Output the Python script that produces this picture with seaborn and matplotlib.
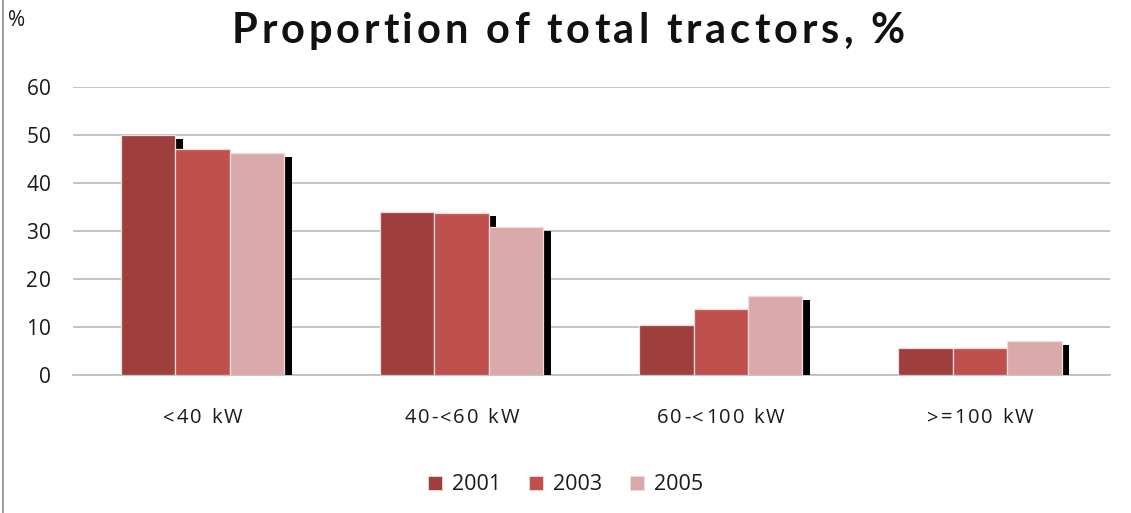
import matplotlib
matplotlib.use("Agg")
import matplotlib.pyplot as plt
import matplotlib.patheffects as pe
from matplotlib.lines import Line2D
from matplotlib.patches import Patch
from matplotlib.transforms import IdentityTransform
import pandas as pd
import seaborn as sns

# values
categories = ["<40 kW", "40-<60 kW", "60-<100 kW", ">=100 kW"]
years = ["2001", "2003", "2005"]
share_2001 = [50.0, 34.0, 10.5, 5.6]
share_2003 = [47.1, 33.8, 13.8, 5.6]
share_2005 = [46.3, 30.8, 16.4, 7.1]
y_ticks = [0, 10, 20, 30, 40, 50, 60]

colors = ["#9E3F3E", "#C0504D", "#DAA9A9"]

df = pd.DataFrame({
    "category": categories * 3,
    "year": [y for y in years for _ in categories],
    "value": share_2001 + share_2003 + share_2005,
})

sns.set_theme(style="white")
plt.rcParams["font.family"] = ["Open Sans", "DejaVu Sans"]
TXT = "#1a1a1a"


def text_width(fig, renderer, s, **kw):
    t = fig.text(0, 0, s, **kw)
    w = t.get_window_extent(renderer).width
    t.remove()
    return w


def spaced_text(fig, s, x, y, spacing=0.0, ha="center", target=None, **kw):
    """Draw s char by char with extra letter spacing; x, y in pixels, y is the baseline."""
    renderer = fig.canvas.get_renderer()
    full = text_width(fig, renderer, s, **kw)
    if target is not None:
        spacing = (target - full) / (len(s) - 1)
    total = full + spacing * (len(s) - 1)
    if ha == "center":
        x0 = x - total / 2
    elif ha == "right":
        x0 = x - total
    else:
        x0 = x
    for i, ch in enumerate(s):
        if ch == " ":
            continue
        left = text_width(fig, renderer, s[:i + 1], **kw) - text_width(fig, renderer, ch, **kw)
        fig.text(x0 + left + i * spacing, y, ch, transform=IdentityTransform(),
                 ha="left", va="baseline", **kw)


fig = plt.figure(figsize=(11.31, 5.13), dpi=100)
ax = fig.add_axes([0.0645, 0.269, 0.9165, 0.561])

sns.barplot(data=df, x="category", y="value", hue="year", palette=colors,
            saturation=1, width=0.63, gap=0, ax=ax, edgecolor="#F2DCDB",
            linewidth=0.9, zorder=3, legend=False)

# black drop shadow to the lower right of every bar
for p in ax.patches:
    p.set_path_effects([pe.SimplePatchShadow(offset=(5.4, -2.6), shadow_rgbFace="black", alpha=1.0),
                        pe.Normal()])

ax.set_ylim(0, 60)
ax.set_yticks(y_ticks)
ax.yaxis.grid(True, color="#BFBFBF", linewidth=1.3, zorder=0)
ax.set_axisbelow(True)
for s in ["left", "right", "top"]:
    ax.spines[s].set_visible(False)
ax.spines["bottom"].set_color("#BFBFBF")
ax.spines["bottom"].set_linewidth(1.3)
ax.set_xlabel("")
ax.set_ylabel("")
ax.tick_params(length=0, labelbottom=False, labelleft=False)

# letter-spaced labels, as in the original
fig.canvas.draw()
for i, lab in enumerate(categories):
    px, _ = ax.transData.transform((i, 0))
    spaced_text(fig, lab, px, 90, spacing=2.0, fontsize=14.5, color=TXT)
for v in y_ticks:
    _, py = ax.transData.transform((0, v))
    spaced_text(fig, str(v), 51, py - 7.5, spacing=0.8, ha="right", fontsize=15, color=TXT)

spaced_text(fig, "Proportion of total tractors, %", 568, 470, target=673,
            fontsize=30, fontweight="bold", color="#111111", family=["Lato", "DejaVu Sans"])
fig.text(8, 487, "%", transform=IdentityTransform(), ha="left", va="baseline",
         fontsize=15, color=TXT)
fig.add_artist(Line2D([0.0025, 0.0025], [0, 1], transform=fig.transFigure,
                      color="#8C8C8C", linewidth=1.2))

handles = [Patch(facecolor=c, edgecolor="#F2DCDB", linewidth=0.6) for c in colors]
fig.legend(handles, years, loc="center", bbox_to_anchor=(0.5, 0.055), ncol=3,
           frameon=False, fontsize=15.5, handlelength=0.65, handleheight=0.65,
           handletextpad=0.45, columnspacing=1.3, labelcolor=TXT)

fig.savefig("out.png", dpi=100)
